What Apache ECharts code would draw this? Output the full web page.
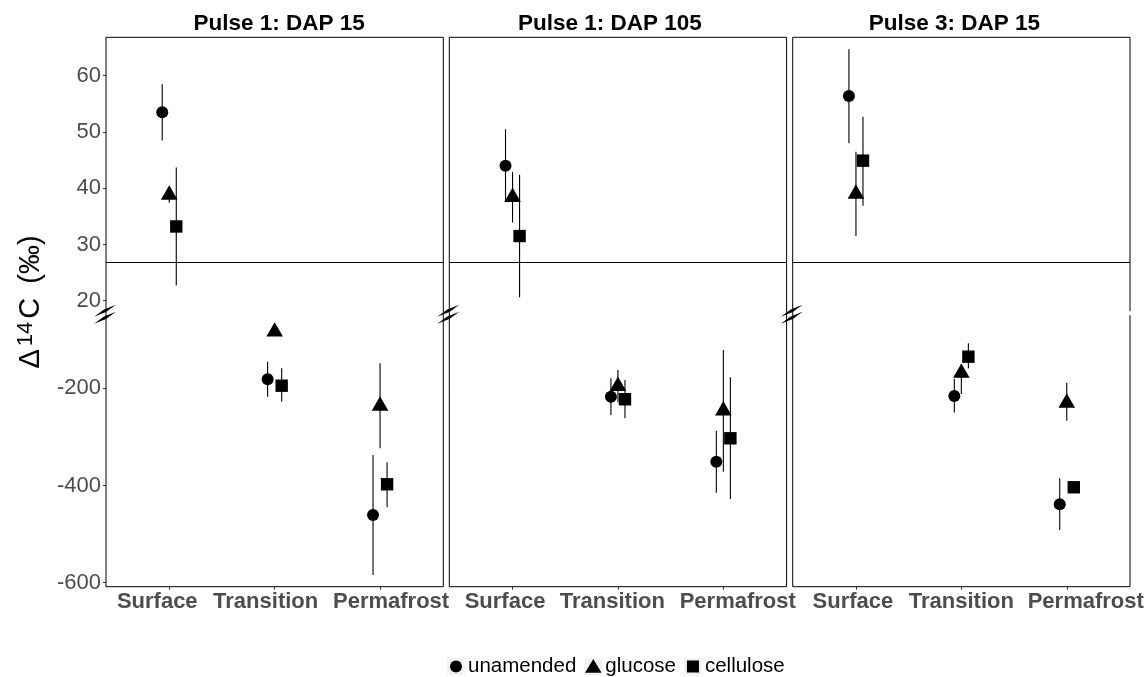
<!DOCTYPE html>
<html><head><meta charset="utf-8">
<script src="https://cdn.jsdelivr.net/npm/echarts@6/dist/echarts.min.js"></script>
<style>html,body{margin:0;padding:0;background:#fff}#c{width:1148px;height:677px}</style>
</head><body><div id="c"></div><script>
// ---------------- data ----------------
const panelTitles = ['Pulse 1: DAP 15', 'Pulse 1: DAP 105', 'Pulse 3: DAP 15'];
const depths = ['Surface', 'Transition', 'Permafrost'];
const treatments = ['unamended', 'glucose', 'cellulose'];
const upperTicks = [20, 30, 40, 50, 60];
const lowerTicks = [-600, -400, -200];
// each row = one panel; columns = Surface, Transition, Permafrost
const unamendedMean = [[53.5, -181.5, -460.7], [44.0, -217.3, -351.0], [56.4, -215.8, -438.7]];
const unamendedLow  = [[48.5, -217.3, -584.0], [37.6, -254.9, -414.8], [48.0, -250.1, -491.6]];
const unamendedHigh = [[58.5, -145.3, -337.2], [50.5, -179.4, -287.2], [64.7, -180.9, -385.2]];
const glucoseMean   = [[38.8, -83.7, -236.2], [38.4, -195.7, -245.9], [39.0, -168.7, -230.2]];
const glucoseLow    = [[37.4, -83.7, -323.5], [33.9, -229.0, -371.6], [31.5, -211.7, -266.7]];
const glucoseHigh   = [[40.2, -83.7, -148.6], [42.9, -162.3, -121.2], [46.5, -150.0, -188.5]];
const celluloseMean = [[33.2, -194.7, -397.5], [31.5, -222.6, -302.9], [44.9, -135.0, -403.7]];
const celluloseLow  = [[22.7, -227.6, -444.9], [20.6, -261.7, -427.8], [36.9, -158.9, -403.7]];
const celluloseHigh = [[43.7, -158.8, -352.3], [42.4, -182.9, -177.4], [52.7, -107.4, -403.7]];
const separatorValue = 26.8;   // horizontal separator line, upper scale
const breakMarkValue = 17.6;   // axis-break glyph position, upper scale

// ---------------- layout ----------------
const FONT = '"Liberation Sans", Arial, Helvetica, sans-serif';
const panelLeft = [106, 449.3, 792.7];
const panelWidth = 337.3, panelTop = 37.3, panelHeight = 549.4;
const upperRange = [-30.84, 66.83];
const lowerRange = [-608.3, 522.2];
const dodgeWidth = 0.2;
const titleShift = [4.5, -8, -7];                       // px
const labelShift = [[-12, -9, 11], [-7.5, -5.6, 14.4], [-3, 0, 19]];  // px, x tick labels

const means = [unamendedMean, glucoseMean, celluloseMean];
const lows = [unamendedLow, glucoseLow, celluloseLow];
const highs = [unamendedHigh, glucoseHigh, celluloseHigh];

function symbolShape(t, x, y) {
  const st = { fill: '#000' };
  if (t === 0) return { type: 'circle', shape: { cx: x, cy: y, r: 6 }, style: st };
  if (t === 1) {
    const R = 9.6, hw = R * Math.sqrt(3) / 2;
    return { type: 'polygon', shape: { points: [[x, y - R], [x + hw, y + R / 2], [x - hw, y + R / 2]] }, style: st };
  }
  return { type: 'rect', shape: { x: x - 6.2, y: y - 6.2, width: 12.4, height: 12.4 }, style: st };
}
function makeRender(t) {
  return function (params, api) {
    const x = api.value(0), m = api.value(1), lo = api.value(2), hi = api.value(3);
    const pm = api.coord([x, m]), pl = api.coord([x, lo]), ph = api.coord([x, hi]);
    return { type: 'group', children: [
      { type: 'line', shape: { x1: pm[0], y1: pl[1], x2: pm[0], y2: ph[1] }, style: { stroke: '#000', lineWidth: 1.1 } },
      symbolShape(t, pm[0], pm[1])
    ] };
  };
}
function makeBreakRender(p) {
  return function (params, api) {
    const cs = params.coordSys;
    const y = api.coord([1, api.value(1)])[1];
    const x = cs.x;
    const slash = (cx, cy) => ({ type: 'polygon', shape: { points: [[cx - 11, cy + 6], [cx - 1, cy - 1.2], [cx + 11, cy - 6], [cx + 1, cy + 1.2]] }, style: { fill: '#000' } });
    const ch = [slash(x - 1, y - 3.5), slash(x - 1, y + 3.5)];
    if (p === panelLeft.length - 1) {
      ch.push({ type: 'rect', shape: { x: cs.x + cs.width - 1.5, y: y - 3, width: 3, height: 4 }, style: { fill: '#fff' } });
    }
    return { type: 'group', children: ch };
  };
}

const svgIcon = (inner) => 'image://data:image/svg+xml;charset=utf-8,' + encodeURIComponent(
  "<svg xmlns='http://www.w3.org/2000/svg' width='36' height='36' viewBox='0 0 18 18'><rect width='18' height='18' fill='#f2f2f2'/>" + inner + "</svg>");
const legendIcons = [
  svgIcon("<circle cx='9' cy='9' r='6' fill='#000'/>"),
  svgIcon("<polygon points='9,1.5 17.3,15.2 0.7,15.2' fill='#000'/>"),
  svgIcon("<rect x='3' y='3' width='12' height='12' fill='#000'/>")
];

const grid = [], xAxis = [], yAxis = [], series = [], title = [];
panelLeft.forEach((left, p) => {
  grid.push({ left: left, top: panelTop, width: panelWidth, height: panelHeight, show: true, borderColor: '#000', borderWidth: 1 });
  title.push({ text: panelTitles[p], left: left + panelWidth / 2 + titleShift[p], top: 12, textAlign: 'center', padding: 0,
    textStyle: { fontFamily: FONT, fontSize: 22.5, fontWeight: 'bold', color: '#000' } });
  const rich = {};
  labelShift[p].forEach((s, i) => {
    rich['l' + i] = { fontFamily: FONT, fontSize: 22, fontWeight: 'bold', color: '#4d4d4d',
      padding: s < 0 ? [0, -2 * s, 0, 0] : [0, 0, 0, 2 * s] };
  });
  xAxis.push({ type: 'value', gridIndex: p, min: 0.4, max: 3.6, splitLine: { show: false },
    axisLine: { show: false, onZero: false },
    axisTick: { show: true, customValues: [1, 2, 3], length: 3, lineStyle: { color: '#333' } },
    axisLabel: { customValues: [1, 2, 3], showMaxLabel: true, showMinLabel: true, hideOverlap: false,
      formatter: v => { const i = Math.round(v) - 1; return '{l' + i + '|' + depths[i] + '}'; },
      rich: rich, fontFamily: FONT, fontSize: 22, fontWeight: 'bold', color: '#4d4d4d', margin: 4 } });
  const yBase = { type: 'value', gridIndex: p, position: 'left', splitLine: { show: false }, axisLine: { show: false, onZero: false } };
  yAxis.push(Object.assign({}, yBase, { min: upperRange[0], max: upperRange[1],
    axisTick: { show: p === 0, customValues: upperTicks, length: 3, lineStyle: { color: '#333' } },
    axisLabel: { show: p === 0, customValues: upperTicks, fontFamily: FONT, fontSize: 22, color: '#4d4d4d', margin: 5 } }));
  const lower = Object.assign({}, yBase, { min: lowerRange[0], max: lowerRange[1],
    axisTick: { show: p === 0, customValues: lowerTicks, length: 3, lineStyle: { color: '#333' } },
    axisLabel: { show: p === 0, customValues: lowerTicks, fontFamily: FONT, fontSize: 22, color: '#4d4d4d', margin: 5 } });
  if (p === 0) {
    Object.assign(lower, { name: '{d|Δ}{s|14}{d|C}{p|(‰)}', nameLocation: 'middle', nameRotate: 90, nameGap: 60,
      nameTextStyle: { color: '#000', fontFamily: FONT, fontSize: 29, padding: [0, 0, 0, 20],
        rich: { d: { fontSize: 29, fontFamily: FONT, color: '#000' },
                p: { fontSize: 29, fontFamily: FONT, color: '#000', padding: [0, 0, 0, 14] },
                s: { fontSize: 22, fontFamily: FONT, color: '#000', verticalAlign: 'top', padding: [0, 3, 9, 3] } } } });
  }
  yAxis.push(lower);

  // separator line + break glyphs
  series.push({ type: 'custom', xAxisIndex: p, yAxisIndex: 2 * p, silent: true, clip: false, z: 5,
    data: [[1, breakMarkValue]], renderItem: makeBreakRender(p),
    markLine: { silent: true, symbol: 'none', label: { show: false }, lineStyle: { color: '#000', width: 1, type: 'solid' }, data: [{ yAxis: separatorValue }] } });

  treatments.forEach((name, t) => {
    const off = (t - 1) * dodgeWidth / 3;
    [0, 1].forEach(scale => {
      const data = [];
      depths.forEach((d, di) => {
        const m = means[t][p][di];
        if ((scale === 0) === (m >= 0)) data.push([di + 1 + off, m, lows[t][p][di], highs[t][p][di]]);
      });
      series.push({ type: 'custom', name: name, xAxisIndex: p, yAxisIndex: 2 * p + scale, clip: false, z: 3,
        itemStyle: { color: '#000' }, encode: { x: 0, y: 1 }, data: data, renderItem: makeRender(t) });
    });
  });
});

const chart = echarts.init(document.getElementById('c'), null, { renderer: 'canvas' });
chart.setOption({
  backgroundColor: '#fff',
  animation: false,
  title: title,
  grid: grid, xAxis: xAxis, yAxis: yAxis, series: series,
  legend: { left: 447, top: 656, padding: 0, itemWidth: 18, itemHeight: 18, itemGap: 8, selectedMode: false,
    textStyle: { fontFamily: FONT, fontSize: 20.5, color: '#000', padding: [0, 0, 0, -2] },
    data: treatments.map((n, i) => ({ name: n, icon: legendIcons[i] })) }
});
</script></body></html>
